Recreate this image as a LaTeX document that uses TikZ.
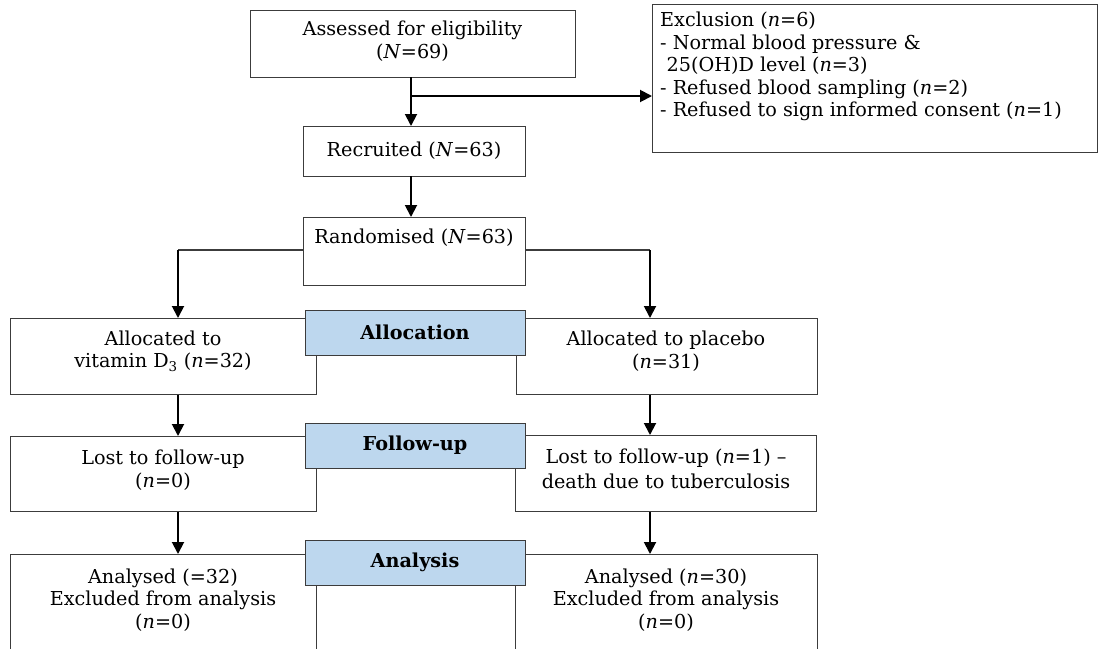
\documentclass[tikz,border=0pt]{standalone}
\usepackage{fontspec}
\setmainfont{DejaVu Serif}
\usetikzlibrary{arrows.meta}
\definecolor{boxgray}{RGB}{60,60,60}
\definecolor{labblue}{RGB}{189,215,238}
\begin{document}
\begin{tikzpicture}[x=1pt,y=-1pt,
  every node/.style={font=\fontsize{19.2}{22.5}\selectfont},
  box/.style={draw=boxgray,line width=1.1pt,fill=white,inner sep=0pt,anchor=north west},
  lab/.style={draw=boxgray,line width=1.1pt,fill=labblue,inner sep=0pt,anchor=north west},
  labtxt/.style={inner sep=0pt,font=\fontsize{19.2}{22.5}\selectfont\bfseries},
  txt/.style={align=center,inner sep=0pt},
  arr/.style={line width=1.9pt,-{Triangle[length=12pt,width=12pt]}},
  thinline/.style={draw=boxgray,line width=1.1pt}
]
\useasboundingbox (0,0) rectangle (1099,648);
\clip (0,0) rectangle (1099,648);

% boxes
\node[box,minimum width=325pt,minimum height=67pt] (assess) at (250,10) {};
\node[txt] (tassess) at (412.5,41) {Assessed for eligibility\\(\textit{N}=69)};

\node[box,minimum width=445pt,minimum height=148pt] (excl) at (652,4) {};
\node[align=left,inner sep=0pt,anchor=north west] (texcl) at (660,12) {Exclusion (\textit{n}=6)\\- Normal blood pressure \&\\\hphantom{-}25(OH)D level (\textit{n}=3)\\- Refused blood sampling (\textit{n}=2)\\- Refused to sign informed consent (\textit{n}=1)};

\node[box,minimum width=222pt,minimum height=50pt] (recruit) at (303,126) {};
\node[txt] (trecruit) at (414,151) {Recruited (\textit{N}=63)};

\node[box,minimum width=222pt,minimum height=68pt] (rand) at (303,217) {};
\node[txt] (trand) at (414,238) {Randomised (\textit{N}=63)};

\node[box,minimum width=306pt,minimum height=76pt] (allocL) at (10,318) {};
\node[txt] (tallocL) at (163,351) {Allocated to\\vitamin D\textsubscript{3} (\textit{n}=32)};

\node[box,minimum width=301pt,minimum height=76pt] (allocR) at (516,318) {};
\node[txt] (tallocR) at (666,351) {Allocated to placebo\\(\textit{n}=31)};

\node[box,minimum width=306pt,minimum height=75pt] (lostL) at (10,436) {};
\node[txt] (tlostL) at (163,470) {Lost to follow-up\\(\textit{n}=0)};

\node[box,minimum width=301pt,minimum height=76pt] (lostR) at (515,435) {};
\node[txt,font=\fontsize{19.2}{25}\selectfont] (tlostR) at (666,469) {Lost to follow-up (\textit{n}=1) --\\death due to tuberculosis};

\node[box,minimum width=306pt,minimum height=110pt] (anaL) at (10,554) {};
\node[txt] (tanaL) at (163,600) {Analysed (=32)\\Excluded from analysis\\(\textit{n}=0)};

\node[box,minimum width=302pt,minimum height=110pt] (anaR) at (515,554) {};
\node[txt] (tanaR) at (666,600) {Analysed (\textit{n}=30)\\Excluded from analysis\\(\textit{n}=0)};

% stage labels
\node[lab,minimum width=220pt,minimum height=45pt] (lalloc) at (305,310) {};
\node[labtxt] (tlalloc) at (415,332) {Allocation};
\node[lab,minimum width=220pt,minimum height=45pt] (lfollow) at (305,423) {};
\node[labtxt] (tlfollow) at (415,445) {Follow-up};
\node[lab,minimum width=220pt,minimum height=45pt] (lana) at (305,540) {};
\node[labtxt] (tlana) at (415,562) {Analysis};

% connectors
\coordinate (c1) at (411,77);
\draw[arr] (c1) -- (c1 |- recruit.north);
\coordinate (br) at (411,96);
\draw[arr] (br) -- (br -| excl.west);
\coordinate (c2) at (411,176);
\draw[arr] (c2) -- (c2 |- rand.north);

\coordinate (colL) at (178,250);
\coordinate (colR) at (650,250);
\draw[thinline] (rand.west |- colL) -- (colL);
\draw[thinline] (rand.east |- colR) -- (colR);
\draw[arr] (colL) -- (colL |- allocL.north);
\draw[arr] (colR) -- (colR |- allocR.north);

\draw[arr] (colL |- allocL.south) -- (colL |- lostL.north);
\draw[arr] (colR |- allocR.south) -- (colR |- lostR.north);
\draw[arr] (colL |- lostL.south) -- (colL |- anaL.north);
\draw[arr] (colR |- lostR.south) -- (colR |- anaR.north);
\end{tikzpicture}
\end{document}
